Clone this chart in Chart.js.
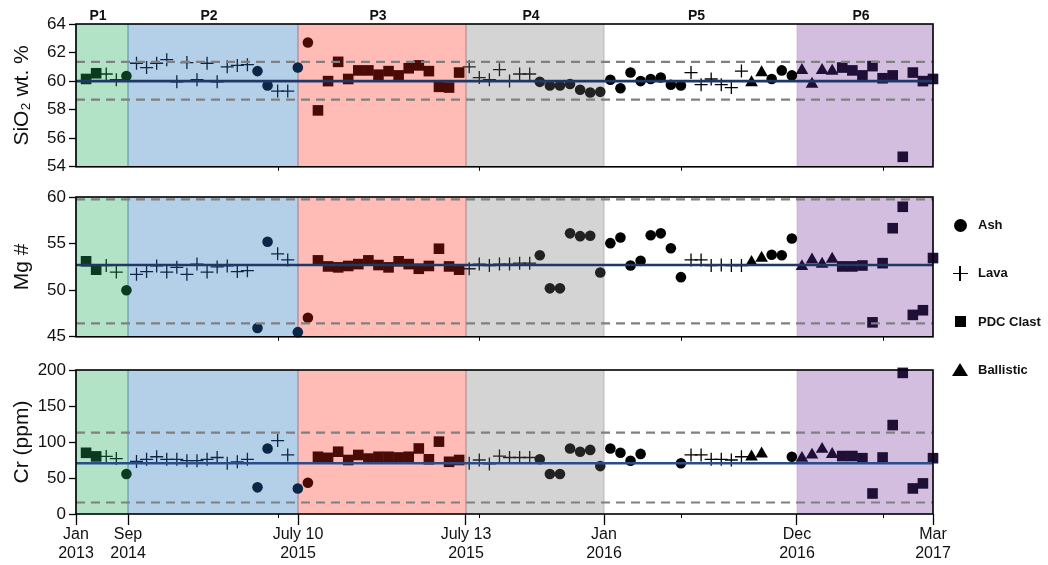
<!DOCTYPE html>
<html>
<head>
<meta charset="utf-8">
<script src="https://cdn.jsdelivr.net/npm/chart.js@4.4.1/dist/chart.umd.min.js"></script>
<style>
	body { margin: 0; background: #fff; }
	#wrap { position: relative; width: 1048px; height: 565px; overflow: hidden; font-family: "Liberation Sans", Arial, Helvetica, sans-serif; }
	#wrap canvas { position: absolute; left: 0; }
	.lg-text { position: absolute; left: 978px; font-size: 13px; font-weight: bold; color: #111; line-height: 16px; margin-top: -8px; white-space: nowrap; }
	.lg-mark { position: absolute; background: #000; }
</style>
</head>
<body>
<div id="wrap">
	<canvas id="chart__sio2" width="1048" height="180" style="top:0"></canvas>
	<canvas id="chart__mg" width="1048" height="170" style="top:180px"></canvas>
	<canvas id="chart__cr" width="1048" height="215" style="top:350px"></canvas>
	<div id="legend"></div>
</div>
<script>
// Periods and axis labels
const periodNames = ["P1", "P2", "P3", "P4", "P5", "P6"];
const periodEdges = [0, 5.16, 22.02, 38.68, 52.37, 71.51, 85];
const dateLabels = [
	["Jan", "2013"], ["Sep", "2014"], ["July 10", "2015"], ["July 13", "2015"],
	["Jan", "2016"], ["Dec", "2016"], ["Mar", "2017"],
];
const minorTicks = [20, 40, 60, 80];

// Sample type per sample (A = Ash, L = Lava, S = PDC Clast, B = Ballistic)
const sampleType = [
	"S", "S", "L", "L", "A",
	"L", "L", "L", "L", "L", "L", "L", "L", "L", "L", "L", "L", "A", "A", "L", "L", "A",
	"A", "S", "S", "S", "S", "S", "S", "S", "S", "S", "S", "S", "S", "S", "S", "S",
	"L", "L", "L", "L", "L", "L", "L", "A", "A", "A", "A", "A", "A", "A",
	"A", "A", "A", "A", "A", "A", "A", "A", "L", "L", "L", "L", "L", "L", "B", "B", "A", "A", "A",
	"B", "B", "B", "B", "S", "S", "S", "S", "S", "S", "S", "S", "S", "S",
];
const typeNames = { A: "Ash", L: "Lava", S: "PDC Clast", B: "Ballistic" };

// SiO2 wt.%
const sio2 = [
	60.15, 60.55, 60.5, 60.1, 60.35,
	61.25, 60.95, 61.25, 61.5, 59.95, 61.3, 60.1, 61.25, 59.95, 61.0, 61.1, 61.15, 60.7, 59.7, 59.3, 59.3, 60.95,
	62.7, 57.95, 60.0, 61.35, 60.15, 60.75, 60.75, 60.45, 60.7, 60.4, 60.9, 61.1, 60.7, 59.6, 59.55, 60.6,
	61.0, 60.25, 60.1, 60.8, 60.0, 60.5, 60.5, 59.95, 59.7, 59.7, 59.8, 59.4, 59.2, 59.25,
	60.1, 59.5, 60.6, 60.0, 60.15, 60.25, 59.75, 59.7, 60.6, 59.75, 60.15, 59.75, 59.55, 60.7, 59.9, 60.6, 60.15, 60.75, 60.4,
	60.75, 59.8, 60.75, 60.7, 60.95, 60.75, 60.4, 61.05, 60.2, 60.4, 54.7, 60.6, 60.0, 60.15,
];

// Mg #
const mgNum = [
	53.1, 52.2, 52.65, 51.95, 50.0,
	51.7, 52.0, 52.6, 51.95, 52.45, 51.7, 52.8, 51.95, 52.5, 52.6, 52.0, 52.1, 45.95, 55.2, 53.9, 53.25, 45.5,
	47.05, 53.2, 52.55, 52.45, 52.6, 52.8, 53.2, 52.7, 52.45, 53.1, 52.8, 52.3, 52.6, 54.45, 52.55, 52.2,
	52.3, 52.8, 52.65, 52.8, 52.8, 52.9, 52.9, 53.75, 50.2, 50.2, 56.1, 55.8, 55.85, 51.9,
	55.05, 55.65, 52.65, 53.15, 55.9, 56.1, 54.5, 51.4, 53.25, 53.25, 52.65, 52.7, 52.65, 52.65, 53.0, 53.45, 53.8, 53.75, 55.55,
	52.55, 53.25, 52.8, 53.35, 52.55, 52.55, 52.65, 46.55, 52.9, 56.65, 58.95, 47.35, 47.85, 53.45,
];

// Cr (ppm)
const crPpm = [
	85, 80, 80, 77, 55.5,
	73, 76, 79.5, 76, 76, 74, 74, 76, 78.5, 70.5, 72.5, 76, 37, 91, 102, 82, 35.5,
	43.5, 79.5, 78, 86.5, 75, 82, 77, 79.5, 79.5, 78.5, 79.5, 91, 76, 100.5, 72.5, 75,
	70.5, 75, 69.5, 80.5, 78.5, 78.5, 78.5, 76, 55.5, 55.5, 91, 86.5, 89, 66.5,
	91, 85, 74, 83.5, null, null, null, 70.5, 82, 82, 76, 76, 75, 79.5, 79.5, 83.5, null, null, 79.5,
	77.5, 82, 90, 83, 80.5, 80.5, 77.5, 28.5, 78.5, 123.5, 196, 35.5, 42.5, 77.5,
];

// Reference lines: [mean - 2 sd, mean, mean + 2 sd]
const sio2Ref = [58.7, 60.0, 61.35];
const mgRef = [46.45, 52.7, 59.75];
const crRef = [16, 70.5, 113];

// Styles
const bandFill = ["#b3e3c7", "#b3d0e8", "#ffbbb6", "#d4d4d4", "#ffffff", "#d3bee0"];
const bandEdge = ["rgba(80,170,150,0.7)", "rgba(110,150,200,0.5)", "rgba(190,120,120,0.6)", "rgba(170,150,150,0.5)", "rgba(255,255,255,0)", "rgba(180,150,210,0.4)"];
const markerColor = ["#0c3a20", "#0b2646", "#4a0b07", "#222222", "#000000", "#1f0f37"];
const markerShape = {
	A: { style: "circle", r: 5.3 },
	L: { style: "cross", r: 6.5 },
	S: { style: "rect", r: 7.5 },
	B: { style: "triangle", r: 7.3 },
};
const grey = "#808080";
const FONT = '"Liberation Sans", Arial, Helvetica, sans-serif';

Chart.defaults.font.family = FONT;
Chart.defaults.color = "#111";

const periodOf = (x) => {
	for (let i = 0; i < periodNames.length; i++) {
		if (x < periodEdges[i + 1]) return i;
	}
	return periodNames.length - 1;
};

// Background bands for the periods
const bandsPlugin = {
	id: "bands",
	beforeDatasetsDraw: (chart) => {
		const { ctx, chartArea: a, scales: { x } } = chart;
		ctx.save();
		periodNames.forEach((_, i) => {
			const x0 = x.getPixelForValue(periodEdges[i]);
			const x1 = x.getPixelForValue(periodEdges[i + 1]);
			ctx.fillStyle = bandFill[i];
			ctx.fillRect(x0, a.top, x1 - x0, a.bottom - a.top);
		});
		ctx.lineWidth = 1.2;
		periodNames.forEach((_, i) => {
			ctx.strokeStyle = bandEdge[i];
			[periodEdges[i], periodEdges[i + 1]].forEach((v) => {
				const px = x.getPixelForValue(v);
				ctx.beginPath();
				ctx.moveTo(px, a.top);
				ctx.lineTo(px, a.bottom);
				ctx.stroke();
			});
		});
		ctx.restore();
	},
};

// Frame, small index ticks and period names
const framePlugin = {
	id: "frame",
	afterDraw: (chart, args, opts) => {
		const { ctx, chartArea: a, scales: { x } } = chart;
		ctx.save();
		ctx.strokeStyle = "#000";
		ctx.lineWidth = 1;
		minorTicks.forEach((v) => {
			const px = Math.round(x.getPixelForValue(v)) + 0.5;
			ctx.beginPath();
			ctx.moveTo(px, a.bottom);
			ctx.lineTo(px, a.bottom + 4);
			ctx.stroke();
		});
		ctx.lineWidth = 1.6;
		ctx.strokeRect(a.left, a.top, a.right - a.left, a.bottom - a.top);
		if (opts.periods) {
			ctx.fillStyle = "#111";
			ctx.font = `bold 14px ${FONT}`;
			ctx.textAlign = "center";
			ctx.textBaseline = "middle";
			periodNames.forEach((name, i) => {
				const mid = (x.getPixelForValue(periodEdges[i]) + x.getPixelForValue(periodEdges[i + 1])) / 2;
				ctx.fillText(name, mid - 4, a.top - 8);
			});
		}
		ctx.restore();
	},
};

const buildDatasets = (values, ref, meanColor) => {
	const datasets = [];
	["A", "L", "S", "B"].forEach((t) => {
		const pts = [];
		sampleType.forEach((ty, i) => {
			if (ty === t && values[i] != null) pts.push({ x: i + 1, y: values[i] });
		});
		const colorFn = (c) => (c.raw ? markerColor[periodOf(c.raw.x)] : "#000");
		datasets.push({
			type: "scatter",
			label: typeNames[t],
			data: pts,
			order: 2,
			clip: false,
			pointStyle: markerShape[t].style,
			pointRadius: markerShape[t].r,
			pointHoverRadius: markerShape[t].r,
			pointBackgroundColor: colorFn,
			pointBorderColor: colorFn,
			pointBorderWidth: t === "L" ? 1.3 : 0,
		});
	});
	ref.forEach((v, k) => {
		datasets.push({
			type: "line",
			data: [{ x: periodEdges[0], y: v }, { x: periodEdges[periodEdges.length - 1], y: v }],
			borderColor: k === 1 ? meanColor : grey,
			borderWidth: k === 1 ? 2.6 : 2.2,
			borderDash: k === 1 ? [] : [9, 6],
			pointRadius: 0,
			order: k === 1 ? 0 : 1,
		});
	});
	return datasets;
};

const createPanel = (id, values, ref, cfg) => {
	const ctx = document.getElementById(id);
	return new Chart(ctx, {
		type: "scatter",
		data: { datasets: buildDatasets(values, ref, cfg.meanColor) },
		options: {
			responsive: false,
			animation: false,
			events: [],
			layout: { padding: { top: cfg.padTop, right: 115, left: 0, bottom: 0 } },
			plugins: {
				legend: { display: false },
				tooltip: { enabled: false },
				frame: { periods: cfg.periods },
			},
			scales: {
				x: {
					type: "linear",
					min: periodEdges[0],
					max: periodEdges[periodEdges.length - 1],
					border: { display: false },
					grid: { display: cfg.dates, drawOnChartArea: false, drawTicks: true, tickLength: 11, tickWidth: 1.3, tickColor: "#000" },
					ticks: {
						display: cfg.dates,
						autoSkip: false,
						maxRotation: 0,
						padding: 0,
						color: "#111",
						font: { size: 16 },
						callback: (v, i) => dateLabels[i],
					},
					afterBuildTicks: (s) => {
						s.ticks = periodEdges.map((v) => ({ value: v }));
					},
					afterFit: (s) => {
						s.height = cfg.axisH;
					},
				},
				y: {
					min: cfg.min,
					max: cfg.max,
					border: { display: false },
					grid: { drawOnChartArea: false, drawTicks: true, tickLength: 7, tickWidth: 1.3, tickColor: "#000" },
					ticks: { stepSize: cfg.step, padding: 3, color: "#111", font: { size: 17 } },
					title: { display: true, text: cfg.title, color: "#111", font: { size: 21 }, padding: { top: 10, bottom: 0 } },
					afterFit: (s) => {
						s.width = 76;
					},
				},
			},
		},
		plugins: [bandsPlugin, framePlugin],
	});
};

// Legend on the right
const buildLegend = () => {
	const box = document.getElementById("legend");
	["A", "L", "S", "B"].forEach((t, i) => {
		const cy = 225 + i * 48.4;
		const cx = 960;
		const addMark = (w, h, extra = {}) => {
			const d = document.createElement("div");
			d.className = "lg-mark";
			Object.assign(d.style, { left: `${cx - w / 2}px`, top: `${cy - h / 2}px`, width: `${w}px`, height: `${h}px` }, extra);
			box.appendChild(d);
		};
		if (t === "A") addMark(13, 13, { borderRadius: "50%" });
		if (t === "L") {
			addMark(15, 1.4);
			addMark(1.4, 15);
		}
		if (t === "S") addMark(11, 11);
		if (t === "B") {
			addMark(0, 0, {
				background: "transparent",
				borderLeft: "8px solid transparent",
				borderRight: "8px solid transparent",
				borderBottom: "13px solid #000",
				left: `${cx - 8}px`,
				top: `${cy - 7}px`,
			});
		}
		const label = document.createElement("div");
		label.className = "lg-text";
		label.style.top = `${cy}px`;
		label.textContent = typeNames[t];
		box.appendChild(label);
	});
};

document.addEventListener("DOMContentLoaded", () => {
	createPanel("chart__sio2", sio2, sio2Ref, { title: "SiO₂ wt. %", min: 54, max: 64, step: 2, padTop: 24, axisH: 13, dates: false, periods: true, meanColor: "#1f3866" });
	createPanel("chart__mg", mgNum, mgRef, { title: "Mg #", min: 45, max: 60, step: 5, padTop: 17, axisH: 9, dates: false, periods: false, meanColor: "#1f3866" });
	createPanel("chart__cr", crPpm, crRef, { title: "Cr (ppm)", min: 0, max: 200, step: 50, padTop: 20, axisH: 51, dates: true, periods: false, meanColor: "#2a4c8c" });
	buildLegend();
});
</script>
</body>
</html>
